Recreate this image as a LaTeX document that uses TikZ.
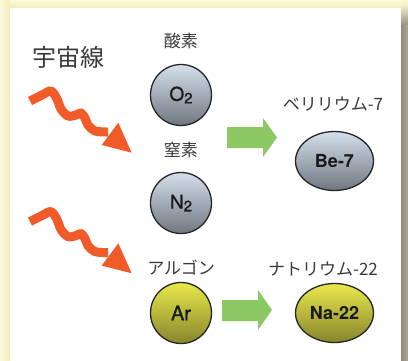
\documentclass[tikz,border=0pt]{standalone}
\usepackage{fontspec}
\setmainfont{TeX Gyre Heros}
\newfontfamily\medfont[FakeBold=0.9]{TeX Gyre Heros}
\newfontfamily\jp{Noto Sans CJK JP}
\usetikzlibrary{shapes.geometric}
\definecolor{cream}{HTML}{F9F4CC}
\definecolor{creamlight}{HTML}{FCF9DC}
\definecolor{creamdark}{HTML}{F2ECB8}
\definecolor{shadowA}{HTML}{8C8C78}
\definecolor{shadowB}{HTML}{ABAB94}
\definecolor{rayred}{HTML}{F15A29}
\definecolor{arrowgreen}{HTML}{8CC863}
\definecolor{grayTop}{HTML}{D4E0EC}
\definecolor{grayMid}{HTML}{B6C1CD}
\definecolor{grayBot}{HTML}{6F7680}
\definecolor{yelTop}{HTML}{E9E84C}
\definecolor{yelMid}{HTML}{D3D243}
\definecolor{yelBot}{HTML}{86852C}
\definecolor{txt}{HTML}{3A3A3A}
\begin{document}
\begin{tikzpicture}[x=1pt,y=-1pt,
  atom/.style={circle, draw=black!85, line width=1.3pt, minimum size=61pt, inner sep=0pt,
    top color=grayTop, middle color=grayMid, bottom color=grayBot, font=\medfont\fontsize{19}{19}\selectfont, text=black!90},
  yatom/.style={atom, top color=yelTop, middle color=yelMid, bottom color=yelBot},
  prod/.style={ellipse, draw=black!85, line width=1.3pt, minimum width=78pt, minimum height=59pt, inner sep=0pt,
    top color=grayTop, middle color=grayMid, bottom color=grayBot, font=\fontsize{18}{18}\selectfont\bfseries, text=black!90},
  yprod/.style={prod, top color=yelTop, middle color=yelMid, bottom color=yelBot},
  lbl/.style={font=\jp\fontsize{17}{17}\selectfont, text=txt, inner sep=0pt},
  ray/.style={draw=rayred, line width=9pt, line cap=butt, line join=round},
  raytip/.style={fill=rayred},
  gofwd/.style={fill=arrowgreen}
]
\useasboundingbox (0,0) rectangle (408,360);
% background
\fill[cream] (0,0) rectangle (408,360);
\shade[left color=creamlight, right color=creamdark] (0,0) rectangle (10,360);
\shade[top color=creamlight, bottom color=creamdark] (10,0) rectangle (401,8);
\shade[left color=shadowA, right color=shadowB] (401,14) rectangle (408,360);
\shade[top color=cream, bottom color=shadowA!60!shadowB] (401,4) rectangle (408,24);
\fill[white] (10,8) rectangle (401,360);

% title
\node[font=\jp\fontsize{24}{24}\selectfont, text=txt] (cosmic) at (69,57) {宇宙線};

% atoms
\node[lbl] (lo) at (181,41) {酸素};
\node[atom] (o2) at (181,95) {O\raisebox{-0.14em}{\fontsize{15}{15}\selectfont 2}};
\node[lbl] (ln) at (181,150) {窒素};
\node[atom] (n2) at (181,203) {N\raisebox{-0.14em}{\fontsize{15}{15}\selectfont 2}};
\node[lbl] (lar) at (181,268) {アルゴン};
\node[yatom, font=\medfont\fontsize{20}{20}\selectfont] (ar) at (181,313) {Ar};

\node[lbl] (lbe) at (333,104) {ベリリウム-7};
\node[prod] (be) at (334.5,161) {Be-7};
\node[lbl] (lna) at (323,269) {ナトリウム-22};
\node[yprod] (na) at (334.5,313) {Na-22};

% green arrows
\fill[gofwd] (227,127) -- (263,127) -- (263,118) -- (277,137.5) -- (263,157) -- (263,148) -- (227,148) -- cycle;
\fill[gofwd] (222,300) -- (258,300) -- (258,290) -- (272,310) -- (258,330) -- (258,321) -- (222,321) -- cycle;

% cosmic rays
\foreach \dy/\nm in {0/a,120.6/b}{
  \begin{scope}[yshift=-\dy pt]
    \coordinate (s\nm) at (30,101);
    \coordinate (t\nm) at (131.7,152.7);
    \draw[ray] plot[smooth, tension=0.55] coordinates {(30,101) (42,95) (51,91) (57,99) (61,109) (68,116) (76,115) (81,113) (85,118) (88,125) (95,131) (108,132)};
    \fill[raytip] (101.7,145) -- (118.3,122.7) -- (t\nm) -- cycle;
  \end{scope}
}
\end{tikzpicture}
\end{document}
